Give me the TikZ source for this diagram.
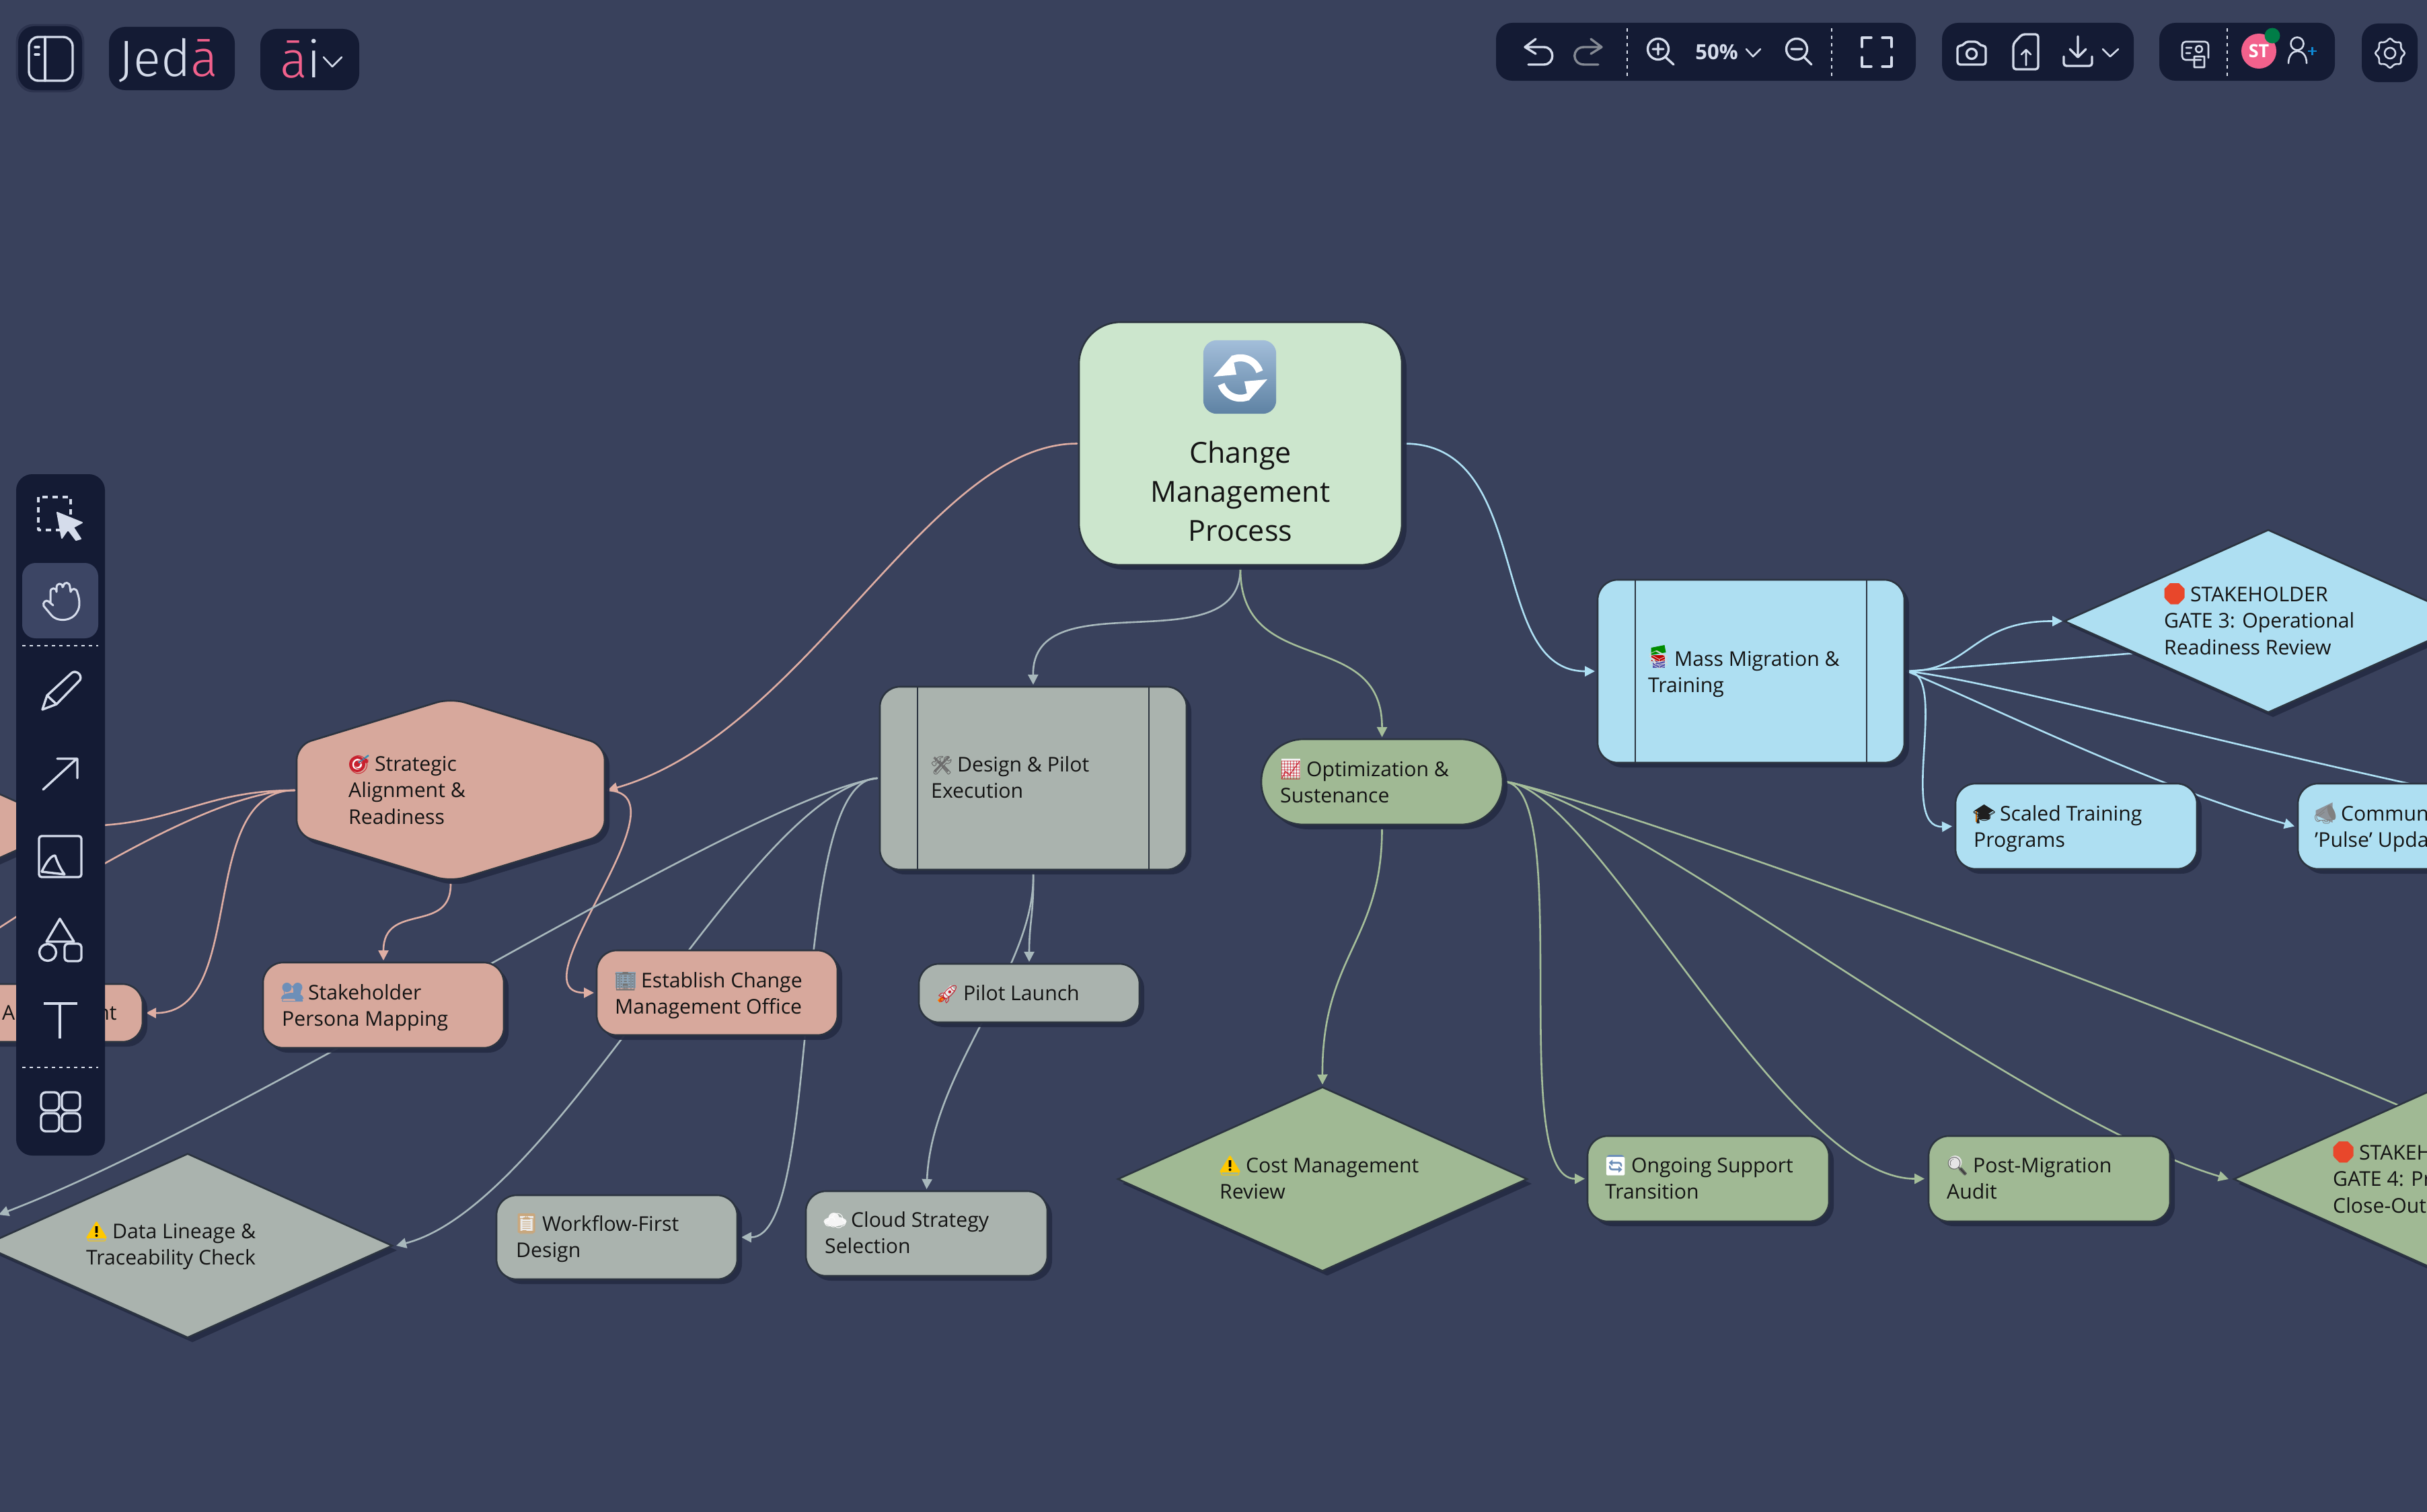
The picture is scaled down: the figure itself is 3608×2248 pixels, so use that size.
\documentclass[tikz,border=0pt]{standalone}
\usepackage{fontspec}
\setmainfont{Open Sans}
\newfontfamily\emofont{Noto Emoji}
\newfontfamily\logofont{Fira Sans Light}
\usetikzlibrary{shapes.geometric,shadows,arrows.meta,calc}
\definecolor{bgc}{HTML}{39415C}
\definecolor{uidark}{HTML}{141B34}
\definecolor{uihl}{HTML}{3C4564}
\definecolor{iconc}{HTML}{D5DCEB}
\definecolor{icondim}{HTML}{858A94}
\definecolor{logopink}{HTML}{F2618C}
\definecolor{edgec}{HTML}{2C3440}
\definecolor{shadc}{HTML}{262C44}
\definecolor{fpink}{HTML}{D7A89C}
\definecolor{fgray}{HTML}{AAB3AE}
\definecolor{fgreen}{HTML}{A0B994}
\definecolor{fblue}{HTML}{AEDFF2}
\definecolor{froot}{HTML}{CCE6CD}
\definecolor{lpink}{HTML}{DFAEA3}
\definecolor{lgray}{HTML}{A8B8BC}
\definecolor{lgreen}{HTML}{A5BE9A}
\definecolor{lblue}{HTML}{AEE0F4}
\definecolor{reloadtop}{HTML}{A3BEDA}
\definecolor{reloadmid}{HTML}{7294B6}
\definecolor{reloadbot}{HTML}{5E82A3}
\definecolor{emored}{HTML}{C8202E}
\definecolor{emostop}{HTML}{E8472B}
\definecolor{emoyel}{HTML}{FFC800}
\definecolor{emopeople}{HTML}{6D8FB8}
\definecolor{emobuild}{HTML}{8DA3B5}
\definecolor{emotan}{HTML}{C9A77D}
\definecolor{emomega}{HTML}{8E9399}
\pgfdeclarelayer{bgl}
\pgfdeclarelayer{edgel}
\pgfdeclarelayer{uil}
\pgfsetlayers{bgl,edgel,main,uil}
\newcommand\emj[2]{\makebox[31pt][c]{\fontsize{27}{27}\emofont\color{#1}#2}}
\newcommand\bdTarget[1]{\begin{scope}[shift={#1}]\fill[emored] (-2,2) circle[radius=12pt];\fill[white] (-2,2) circle[radius=8pt];\fill[emored] (-2,2) circle[radius=4.5pt];\draw[cyan!70!black,line width=2.5pt] (0,0)--(15,-11);\end{scope}}
\newcommand\bdPeople[1]{\begin{scope}[shift={#1}]\fill[emopeople] (-8,-5) circle[radius=7pt] (8,-5) circle[radius=7pt] (-17,12) .. controls (-16,0) and (16,0) .. (17,12) -- cycle;\end{scope}}
\newcommand\bdBuild[1]{\begin{scope}[shift={#1}]\fill[emobuild] (-15,-11) rectangle (15,13);\end{scope}}
\newcommand\bdClip[1]{\begin{scope}[shift={#1}]\fill[emotan,rounded corners=2pt] (-13,-14) rectangle (13,15);\fill[white!92!black] (-10,-10) rectangle (10,12);\end{scope}}
\newcommand\bdCloud[1]{\begin{scope}[shift={#1}]\fill[white!96!black] (0,4) ellipse[x radius=17pt,y radius=7pt] (-2,-1) circle[radius=8pt];\end{scope}}
\newcommand\bdRocket[1]{\begin{scope}[shift={#1}]\draw[orange,line width=5pt] (-7,7)--(-13,13);\draw[white!92!black,line width=9pt] (-6,6)--(8,-8);\end{scope}}
\newcommand\bdTools[1]{\begin{scope}[shift={#1}]\draw[black!55,line width=3.5pt] (-11,-9)--(10,12) (11,-10)--(-10,12);\end{scope}}
\newcommand\bdChart[1]{\begin{scope}[shift={#1}]\fill[white!95!black] (-14,-14) rectangle (14,14);\end{scope}}
\newcommand\bdWarn[1]{\begin{scope}[shift={#1}]\fill[emoyel,rounded corners=1.5pt] (0,-14)--(16,12)--(-16,12)--cycle;\end{scope}}
\newcommand\bdBang[1]{\begin{scope}[shift={#1}]\fill[black] (-1.8,-6) rectangle (1.8,4) (0,8) circle[radius=2pt];\end{scope}}
\newcommand\bdReload[1]{\begin{scope}[shift={#1}]\fill[emopeople,rounded corners=4pt] (-13,-15) rectangle (13,15);\end{scope}}
\newcommand\bdMag[1]{\begin{scope}[shift={#1}]\fill[white!90!black] (-3,-4) circle[radius=10pt];\draw[black!75,line width=4pt] (5,5)--(13,14);\end{scope}}
\newcommand\bdStop[1]{\begin{scope}[shift={#1}]\fill[emostop] (-6.5,-15)--(6.5,-15)--(15,-6.5)--(15,6.5)--(6.5,15)--(-6.5,15)--(-15,6.5)--(-15,-6.5)--cycle;\end{scope}}
\newcommand\bdBooks[1]{\begin{scope}[shift={#1}]\fill[green!55!black] (-11,-15)--(9,-19)--(11,-8)--(-11,-4)--cycle;\fill[red!75!black] (-11,-4) rectangle (9,5);\fill[blue!35!gray] (-9,5) rectangle (9,15);\end{scope}}
\newcommand\bdCap[1]{\begin{scope}[shift={#1}]\fill[black!88] (-14,-3)--(0,-12)--(14,-3)--(0,6)--cycle (-8,2)--(8,2)--(8,10)--(-8,10)--cycle;\draw[orange!85!black,line width=2pt] (-12,-2)--(-12,14);\end{scope}}
\newcommand\bdMega[1]{\begin{scope}[shift={#1}]\fill[emomega] (-14,-3)--(11,-15)--(11,15)--(-14,4)--cycle;\end{scope}}
\tikzset{
  shad/.style={drop shadow={shadow xshift=7pt,shadow yshift=-7pt,fill=shadc,opacity=.95}},
  rr/.style={draw=edgec,line width=2.6pt,rounded corners=30pt,inner sep=0pt,outer sep=0pt,shad},
  dm/.style={diamond,draw=edgec,line width=2.6pt,inner sep=0pt,outer sep=0pt,shad,minimum width=608pt,minimum height=273pt},
  lbl/.style={anchor=west,align=left,inner sep=0pt,text=black!92,yshift=-4pt,font=\fontsize{30.2}{39.5}\selectfont},
  conn/.style={line width=2.6pt,line cap=round},
  arr/.style={-{Triangle[length=15pt,width=15pt]}},
  ic/.style={draw=iconc,line width=3.4pt,line cap=round,line join=round},
  dashdiv/.style={draw=iconc!80,line width=1.6pt,dash pattern=on 5pt off 6pt},
  panel/.style={fill=uidark,rounded corners=24pt,inner sep=0pt,outer sep=0pt},
}
\begin{document}
\begin{tikzpicture}[x=1pt,y=-1pt]
\useasboundingbox (0,0) rectangle (3608,2248);
\begin{pgfonlayer}{bgl}
\fill[bgc] (0,0) rectangle (3608,2248);
\end{pgfonlayer}

% ---------- nodes
\node[rr,fill=froot,rounded corners=62pt,minimum width=480pt,minimum height=361pt] (root) at (1844,659.5) {};
\node[lbl,anchor=center,align=center,font=\fontsize{43}{58}\selectfont] (rootlabel) at (1844,731) {\strut Change\\\strut Management\\\strut Process};
\node[fill=none,inner sep=0pt,minimum width=108pt,minimum height=109pt] (rooticon) at (1843,560.5) {};
\shade[top color=reloadtop,middle color=reloadmid,bottom color=reloadbot,rounded corners=20pt] (rooticon.north west) rectangle (rooticon.south east);
\draw[white,line width=10.5pt] (1872.5,552.7) arc[start angle=18,end angle=112,radius=30pt];
\fill[white] (1832,528)--(1804,560)--(1838,557)--cycle;
\draw[white,line width=10.5pt] (1815.5,571.3) arc[start angle=198,end angle=292,radius=30pt];
\fill[white] (1856,596)--(1884,564)--(1850,567)--cycle;

% Strategic hexagon
\draw[draw=edgec,fill=fpink,line width=2.6pt,rounded corners=22pt,shad] (441,1108)--(670,1038)--(899,1108)--(899,1241)--(670,1311)--(441,1241)--cycle;
\node[inner sep=0pt,outer sep=0pt,minimum width=458pt,minimum height=269pt] (strat) at (670,1175) {};
\bdTarget{(533,1134)}
\node[lbl] (lstrat) at (518,1174) {\strut\emj{emored}{🎯} Strategic\\\strut Alignment \&\\\strut Readiness};

% left clipped diamond
\node[dm,fill=fpink] (leftd) at (-199,1228) {};

\node[rr,fill=fpink,minimum width=359pt,minimum height=86pt] (assess) at (32.5,1506) {};
\node[lbl] (lassess) at (3,1505) {\strut A\hspace{122pt}nt};
\node[rr,fill=fpink,minimum width=358pt,minimum height=127pt] (stake) at (570,1494.5) {};
\bdPeople{(434.5,1473)}
\node[lbl] (lstake) at (419,1494) {\strut\emj{emopeople}{👥} Stakeholder\\\strut Persona Mapping};
\node[rr,fill=fpink,minimum width=358pt,minimum height=126pt] (estab) at (1066,1476) {};
\bdBuild{(929.5,1456)}
\node[lbl] (lestab) at (914,1476) {\strut\emj{black!55}{🏢} Establish Change\\\strut Management Office};

\node[rr,fill=fgray,minimum width=456pt,minimum height=272pt] (design) at (1536,1157) {};
\draw[edgec,line width=2.6pt] (1364,1021)--(1364,1293) (1708,1021)--(1708,1293);
\bdTools{(1399.5,1135)}
\node[lbl] (ldesign) at (1384,1155) {\strut\emj{black!60}{🛠} Design \& Pilot\\\strut Execution};
\node[rr,fill=fgray,minimum width=328pt,minimum height=87pt] (pilot) at (1530,1476.5) {};
\bdRocket{(1408.5,1476)}
\node[lbl] (lpilot) at (1393,1476) {\strut\emj{emored}{🚀} Pilot Launch};
\node[rr,fill=fgray,minimum width=359pt,minimum height=126pt] (cloud) at (1377.5,1834) {};
\bdCloud{(1241.5,1812)}
\node[lbl] (lcloud) at (1226,1832) {\strut\emj{white}{☁} Cloud Strategy\\\strut Selection};
\node[rr,fill=fgray,minimum width=358pt,minimum height=125pt] (work) at (917,1839.5) {};
\bdClip{(782.5,1818)}
\node[lbl] (lwork) at (767,1838) {\strut\emj{emotan}{📋} Workflow-First\\\strut Design};
\node[dm,fill=fgray] (data) at (279,1852) {};
\bdWarn{(143.5,1829)}
\node[lbl] (ldata) at (128,1849) {\strut\emj{emoyel}{⚠} Data Lineage \&\\\strut Traceability Check};
\bdBang{(143.5,1829)}

\node[rr,fill=fgreen,rounded corners=63pt,minimum width=359pt,minimum height=127pt] (opt) at (2054.5,1162.5) {};
\bdChart{(1918.5,1142)}
\node[lbl] (lopt) at (1903,1162) {\strut\emj{emored}{📈} Optimization \&\\\strut Sustenance};
\node[dm,fill=fgreen] (cost) at (1966,1753) {};
\bdWarn{(1828.5,1731)}
\node[lbl] (lcost) at (1813,1751) {\strut\emj{emoyel}{⚠} Cost Management\\\strut Review};
\bdBang{(1828.5,1731)}
\node[rr,fill=fgreen,minimum width=359pt,minimum height=127pt] (ongoing) at (2539.5,1752.5) {};
\bdReload{(2401.5,1732)}
\node[lbl] (longoing) at (2386,1751) {\strut\emj{white}{🔄} Ongoing Support\\\strut Transition};
\node[rr,fill=fgreen,minimum width=359pt,minimum height=127pt] (post) at (3046.5,1752.5) {};
\bdMag{(2909.5,1732)}
\node[lbl] (lpost) at (2894,1751) {\strut\emj{black!60}{🔍} Post-Migration\\\strut Audit};
\node[dm,fill=fgreen] (gatefour) at (3625,1753) {};
\bdStop{(3483.5,1712)}
\node[lbl] (lgatefour) at (3468,1752) {\strut\emj{emostop}{🛑} STAKEH\\\strut GATE 4: Pr\\\strut Close-Out};

\node[rr,fill=fblue,minimum width=456pt,minimum height=272pt] (mass) at (2603,998) {};
\draw[edgec,line width=2.6pt] (2431,862)--(2431,1134) (2775,862)--(2775,1134);
\bdBooks{(2465.5,978)}
\node[lbl] (lmass) at (2450,998) {\strut\emj{white!85!black}{📚} Mass Migration \&\\\strut Training};
\node[dm,fill=fblue,minimum width=606pt,minimum height=271pt] (gatethree) at (3372,923.5) {};
\bdStop{(3232.5,882)}
\node[lbl] (lgatethree) at (3217,922) {\strut\emj{emostop}{🛑} STAKEHOLDER\\\strut GATE 3: Operational\\\strut Readiness Review};
\node[rr,fill=fblue,minimum width=359pt,minimum height=127pt] (scaled) at (3086.5,1228.5) {};
\bdCap{(2949.5,1208)}
\node[lbl] (lscaled) at (2934,1228) {\strut\emj{black!88}{🎓} Scaled Training\\\strut Programs};
\node[rr,fill=fblue,minimum width=359pt,minimum height=127pt] (comm) at (3595.5,1228.5) {};
\bdMega{(3456.5,1208)}
\node[lbl] (lcomm) at (3441,1228) {\strut\emj{black!50}{📣} Commun\\\strut 'Pulse' Upda};

% ---------- connectors
\coordinate (offa) at (-5,1382);
\coordinate (offb) at (-2,1806);
\coordinate (hidegthree) at (3250,965);
\coordinate (hidecomm) at (3650,1180);
\coordinate (hidegfour) at (3650,1680);
\begin{pgfonlayer}{edgel}
\begin{scope}[conn,lpink]
\draw[arr] ([xshift=-3pt]root.west) .. controls (1380,660) and (1200,1090) .. ([xshift=4pt]strat.east);
\draw[arr] ([xshift=-3pt]strat.west) .. controls (290,1175) and (370,1507) .. ([xshift=5pt]assess.east);
\draw[arr] ([xshift=-3pt]strat.west) .. controls (300,1175) and (260,1228) .. (leftd.east);
\draw ([xshift=-3pt]strat.west) .. controls (330,1175) and (120,1300) .. (offa);
\draw[arr] ([yshift=-4pt]strat.south) .. controls (671,1390) and (570,1340) .. ([yshift=3pt]stake.north);
\draw[arr] ([xshift=4pt]strat.east) .. controls (1030,1180) and (760,1476) .. ([xshift=-4pt]estab.west);
\end{scope}
\begin{scope}[conn,lgray]
\draw[arr] ([yshift=-5pt]root.south) .. controls (1843,990) and (1534,860) .. ([yshift=3pt]design.north);
\draw[arr] ([xshift=-4pt]design.west) .. controls (1100,1190) and (380,1660) .. (offb);
\draw[arr] ([xshift=-4pt]design.west) .. controls (1110,1180) and (830,1790) .. ([xshift=6pt]data.east);
\draw[arr] ([xshift=-4pt]design.west) .. controls (1170,1158) and (1225,1840) .. ([xshift=6pt]work.east);
\draw[arr] ([yshift=-5pt]design.south) .. controls (1537,1360) and (1530,1370) .. ([yshift=3pt]pilot.north);
\draw[arr] ([yshift=-5pt]design.south) .. controls (1540,1440) and (1385,1590) .. ([yshift=3pt]cloud.north);
\end{scope}
\begin{scope}[conn,lgreen]
\draw[arr] ([yshift=-5pt]root.south) .. controls (1843,1010) and (2055,930) .. ([yshift=3pt]opt.north);
\draw[arr] ([yshift=-5pt]opt.south) .. controls (2055,1400) and (1965,1420) .. ([yshift=4pt]cost.north);
\draw[arr] ([xshift=5pt]opt.east) .. controls (2340,1180) and (2240,1753) .. ([xshift=-4pt]ongoing.west);
\draw[arr] ([xshift=5pt]opt.east) .. controls (2370,1170) and (2650,1753) .. ([xshift=-6pt]post.west);
\draw[arr] ([xshift=5pt]opt.east) .. controls (2420,1190) and (3000,1660) .. ([xshift=-8pt]gatefour.west);
\draw ([xshift=5pt]opt.east) .. controls (2350,1180) and (3200,1480) .. (hidegfour);
\end{scope}
\begin{scope}[conn,lblue]
\draw[arr] ([xshift=4pt]root.east) .. controls (2280,660) and (2210,998) .. ([xshift=-4pt]mass.west);
\draw[arr] ([xshift=4pt]mass.east) .. controls (2930,998) and (2930,923) .. ([xshift=-3pt]gatethree.west);
\draw ([xshift=4pt]mass.east) .. controls (2950,989) and (3100,977) .. (hidegthree);
\draw[arr] ([xshift=4pt]mass.east) .. controls (2900,998) and (2820,1232) .. ([xshift=-5pt]scaled.west);
\draw[arr] ([xshift=4pt]mass.east) .. controls (2960,1050) and (3200,1170) .. ([xshift=-5pt]comm.west);
\draw ([xshift=4pt]mass.east) .. controls (2950,1010) and (3300,1105) .. (hidecomm);
\end{scope}
\end{pgfonlayer}

% ---------- UI chrome
\begin{pgfonlayer}{uil}
% top left
\node[panel,drop shadow={shadow xshift=0pt,shadow yshift=0pt,fill=uidark,opacity=.35,shadow scale=1.07},minimum width=95pt,minimum height=95pt] (sidebtn) at (74.5,86.5) {};
\draw[ic,rounded corners=14pt] (43,55) rectangle (108,120);
\draw[ic] (67,55)--(67,120) (52,70)--(58,70) (52,81)--(58,81);
\node[panel,minimum width=187pt,minimum height=94pt] (logobtn) at (255.5,87) {};
\node[anchor=base west,inner sep=0pt,font=\fontsize{76}{76}\logofont,text=iconc] (logotext) at (176,113) {Jed\textcolor{logopink}{ā}};
\node[panel,minimum width=147pt,minimum height=91pt] (aibtn) at (460.5,88.5) {};
\node[anchor=base west,inner sep=0pt,font=\fontsize{76}{76}\logofont,text=iconc] (aitext) at (416,115) {\textcolor{logopink}{ā}i};
\draw[ic,line width=2.6pt] (481,85)--(494,99)--(508,85);

% top right panels
\node[panel,minimum width=624pt,minimum height=86pt] (panela) at (2536,77) {};
\node[panel,minimum width=285pt,minimum height=86pt] (panelb) at (3029.5,77) {};
\node[panel,minimum width=261pt,minimum height=86pt] (panelc) at (3340.5,77) {};
\node[panel,minimum width=83pt,minimum height=87pt] (paneld) at (3552.5,78.5) {};
% undo / redo
\draw[ic] (2283,58)--(2267,70)--(2283,80) (2267,70)--(2295,70) .. controls (2312,70) and (2312,96) .. (2295,96) -- (2272,96);
\draw[ic,draw=icondim] (2365,58)--(2381,70)--(2365,80) (2381,70)--(2355,70) .. controls (2336,70) and (2336,96) .. (2355,96) -- (2376,96);
\draw[dashdiv] (2419,42)--(2419,113) (2723,42)--(2723,113) (3311,42)--(3311,113);
% zoom in
\draw[ic] (2465,73) circle[radius=15.5pt] (2476,85)--(2488,96) (2457,73)--(2473,73) (2465,65)--(2465,81);
\node[inner sep=0pt,font=\bfseries\fontsize{31}{31}\selectfont,text=iconc] (zoomval) at (2552,77) {50\%};
\draw[ic,line width=2.6pt] (2596,73)--(2606,84)--(2617,73);
\draw[ic] (2671,73) circle[radius=15.5pt] (2682,85)--(2693,96) (2663,73)--(2679,73);
% fullscreen
\draw[ic] (2768,70)--(2768,56)--(2782,56) (2798,56)--(2812,56)--(2812,70) (2768,85)--(2768,99)--(2782,99) (2798,99)--(2812,99)--(2812,85);
% camera
\draw[ic,rounded corners=4pt] (2910,68)--(2918,68)--(2922,62)--(2940,62)--(2944,68)--(2952,68)--(2952,96)--(2910,96)--cycle;
\draw[ic] (2931,80) circle[radius=7.5pt];
% file up
\draw[ic,rounded corners=4pt] (2993,65)--(3006,51)--(3030,51)--(3030,103)--(2993,103)--cycle;
\draw[ic,line width=2.6pt] (3012,97)--(3012,74) (3005,81)--(3012,74)--(3019,81);
% download
\draw[ic] (3089,54)--(3089,85) (3077,73)--(3089,85)--(3101,73);
\draw[ic,rounded corners=4pt] (3068,84)--(3068,98)--(3110,98)--(3110,84);
\draw[ic,line width=2.6pt] (3126,73)--(3137,84)--(3149,73);
% presenter
\draw[ic,line width=2.6pt,rounded corners=5pt] (3272,89)--(3244,89)--(3244,62)--(3283,62)--(3283,86);
\draw[ic,line width=2.6pt] (3269,73) circle[radius=5pt] (3250,71)--(3258,71) (3250,79)--(3256,79) (3262,100)--(3262,84)--(3277,84)--(3277,100)--(3262,100);
% avatar
\node[circle,fill=logopink,minimum size=52pt,inner sep=0pt,font=\bfseries\fontsize{27}{27}\selectfont,text=white] (avatar) at (3358,76) {ST};
\node[circle,fill=green!50!black!60!cyan!70!black,minimum size=23pt,inner sep=0pt] (online) at (3378,53) {};
\draw[ic,line width=2.6pt] (3415,65) circle[radius=9.5pt];
\draw[ic,line width=2.6pt] (3402,94) .. controls (3402,70) and (3429,70) .. (3429,94);
\draw[cyan!70!blue,line width=2.6pt] (3431,76)--(3444,76) (3437.5,70)--(3437.5,82);
% gear
\node[star,star points=8,star point ratio=1.32,minimum size=46pt,inner sep=0pt,draw=iconc,line width=2.6pt,rounded corners=3pt] (gear) at (3553,79) {};
\draw[ic,line width=2.6pt] (gear.center) circle[radius=8pt];

% left toolbar
\node[panel,minimum width=132pt,minimum height=1013pt] (toolbar) at (90,1211.5) {};
\draw[ic,dash pattern=on 8pt off 7pt,line cap=butt] (57,739) rectangle (105,788);
\fill[iconc,line join=round,draw=iconc,line width=2pt] (85,762)--(122,777)--(109,784)--(120,801)--(113,803)--(101,787)--(92,800)--cycle;
\node[fill=uihl,rounded corners=20pt,minimum width=113pt,minimum height=112pt,inner sep=0pt] (handbtn) at (89.5,893) {};
\draw[ic,line width=3pt] (75,896)--(75,880) .. controls (75,873) and (84,873) .. (84,880) -- (84,874) .. controls (84,866) and (93,866) .. (93,873) -- (94,872) .. controls (95,864) and (104,865) .. (104,873) -- (105,880) .. controls (106,874) and (114,874) .. (115,881) .. controls (119,892) and (119,903) .. (115,909) .. controls (108,924) and (84,926) .. (75,913) -- (65,901) .. controls (63,896) and (68,891) .. (72,894) -- (79,900);
\draw[dashdiv] (33,960)--(146,960) (33,1587)--(146,1587);
% pencil
\draw[ic] (63,1055)--(70,1034)--(106,1001) .. controls (112,995) and (123,1003) .. (119,1011) -- (84,1047) -- cycle;
\draw[ic] (70,1034)--(84,1047);
% arrow
\draw[ic] (64,1174)--(114,1128) (85,1128)--(115,1128)--(115,1157);
% image
\draw[ic,rounded corners=4pt] (58,1243) rectangle (121,1304);
\draw[ic] (62,1296) .. controls (70,1280) and (76,1272) .. (82,1272) .. controls (86,1285) and (92,1295) .. (96,1300) -- (62,1296);
% shapes
\draw[ic] (89,1366)--(110,1400)--(69,1400)--cycle;
\draw[ic] (71,1416) circle[radius=12.5pt];
\draw[ic,rounded corners=5pt] (96,1403) rectangle (121,1429);
% T
\draw[ic,line width=4pt,line cap=butt] (65,1492)--(115,1492) (89,1492)--(89,1544);
% grid
\draw[ic,rounded corners=7pt] (61,1624) rectangle (88,1651) (92,1624) rectangle (119,1651) (61,1655) rectangle (88,1682) (92,1655) rectangle (119,1682);
\end{pgfonlayer}
\end{tikzpicture}
\end{document}
